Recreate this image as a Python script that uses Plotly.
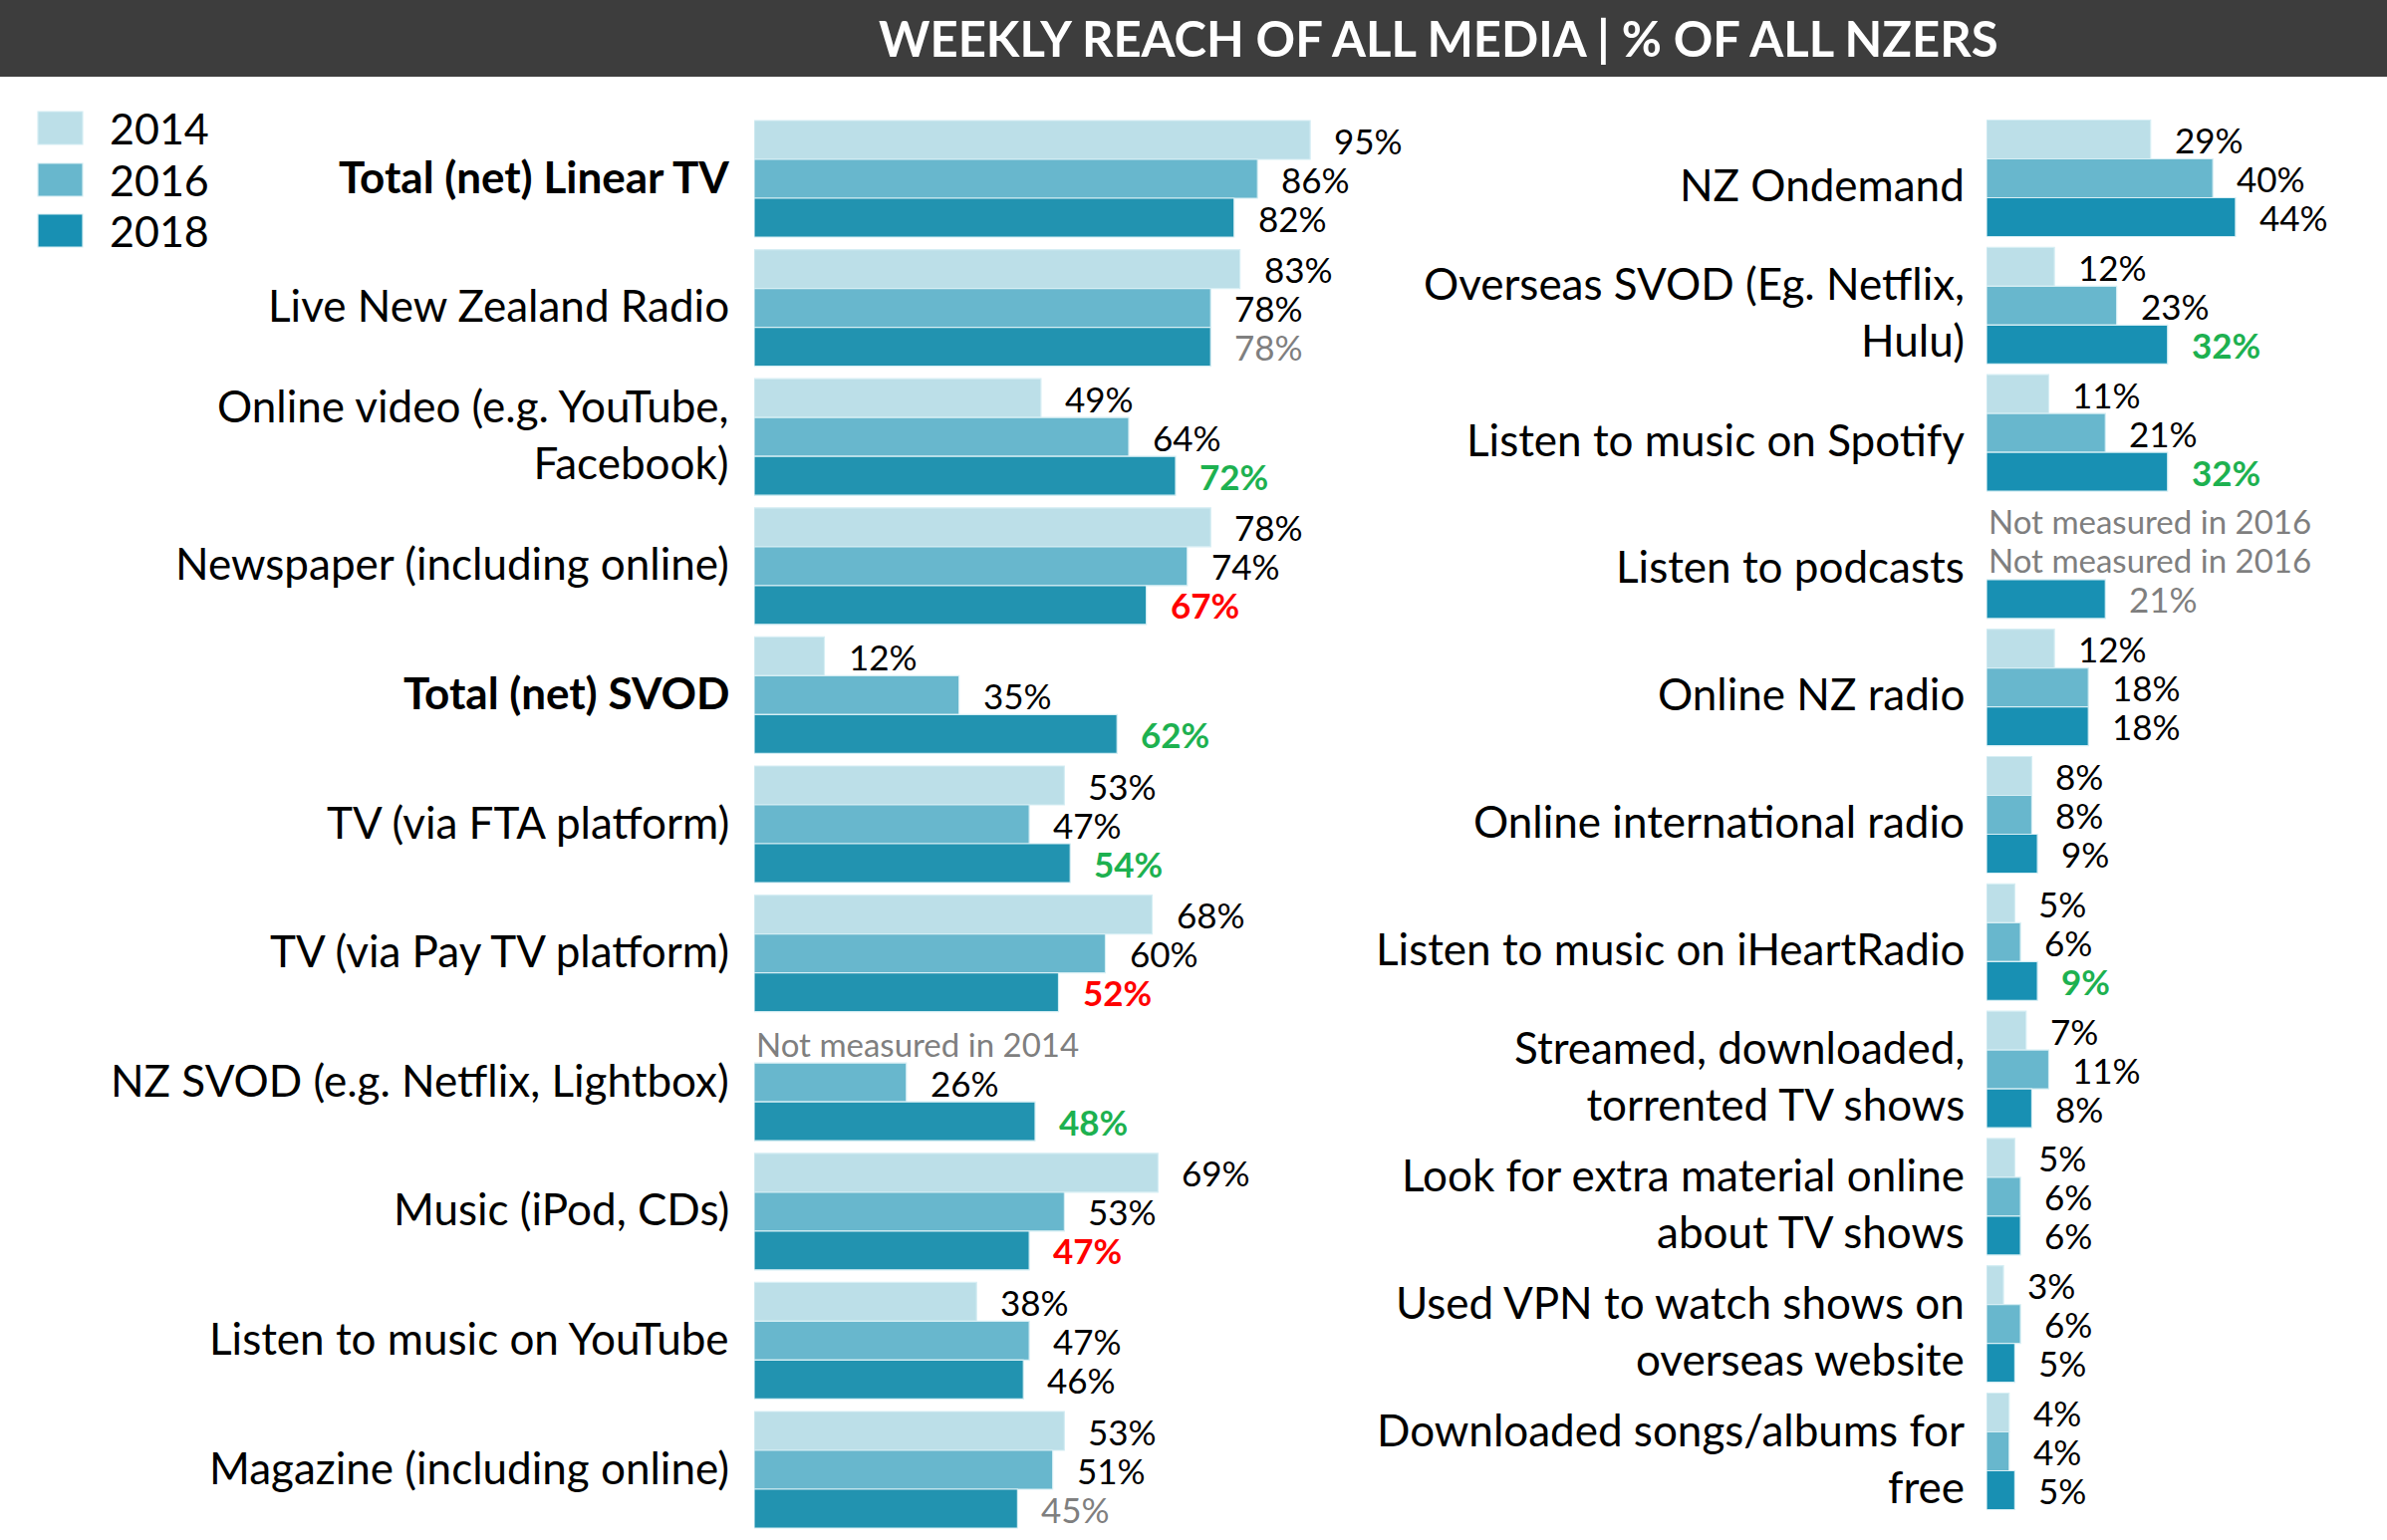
import plotly.graph_objects as go

W, H = 2396, 1546
FONT = "Lato"

# ---------------- data ----------------
years = ["2014", "2016", "2018"]

left_categories = [
    "<b>Total (net) Linear TV</b>",
    "Live New Zealand Radio",
    "Online video (e.g. YouTube,<br>Facebook)",
    "Newspaper (including online)",
    "<b>Total (net) SVOD</b>",
    "TV (via FTA platform)",
    "TV (via Pay TV platform)",
    "NZ SVOD (e.g. Netflix, Lightbox)",
    "Music (iPod, CDs)",
    "Listen to music on YouTube",
    "Magazine (including online)",
]
left_2014 = [95, 83, 49, 78, 12, 53, 68, None, 69, 38, 53]
left_2016 = [86, 78, 64, 74, 35, 47, 60, 26, 53, 47, 51]
left_2018 = [82, 78, 72, 67, 62, 54, 52, 48, 47, 46, 45]
left_2018_flag = ["", "flat", "up", "down", "up", "up", "down", "up", "down", "", "flat"]
left_missing_note = ["", "", "", "", "", "", "", "Not measured in 2014", "", "", ""]

right_categories = [
    "NZ Ondemand",
    "Overseas SVOD (Eg. Netflix,<br>Hulu)",
    "Listen to music on Spotify",
    "Listen to podcasts",
    "Online NZ radio",
    "Online international radio",
    "Listen to music on iHeartRadio",
    "Streamed, downloaded,<br>torrented TV shows",
    "Look for extra material online<br>about TV shows",
    "Used VPN to watch shows on<br>overseas website",
    "Downloaded songs/albums for<br>free",
]
right_2014 = [29, 12, 11, None, 12, 8, 5, 7, 5, 3, 4]
right_2016 = [40, 23, 21, None, 18, 8, 6, 11, 6, 6, 4]
right_2018 = [44, 32, 32, 21, 18, 9, 9, 8, 6, 5, 5]
right_2018_flag = ["", "up", "up", "flat", "", "", "up", "", "", "", ""]
right_missing_note = ["", "", "", "Not measured in 2016", "", "", "", "", "", "", ""]

title_text = "WEEKLY REACH OF ALL MEDIA | % OF ALL NZERS"

# ---------------- styles ----------------
col_2014 = "#bcdfe8"
col_2016 = "#68b7cd"
col_2018_left = "#2293b0"
col_2018_right = "#1890b3"
flag_style = {"": ("#000000", False), "flat": ("#7f7f7f", False),
              "up": ("#1db150", True), "down": ("#ff0000", True)}

CAT_SIZE = 44
VAL_SIZE = 35
BAR_PX = 39
# left panel geometry (pixels)
L_X0, L_SCALE, L_RANGE = 757, 5.875, 100
L_TOP, L_PITCH = 179.5, 129.6
# right panel geometry (pixels)
R_X0, R_SCALE, R_RANGE = 1994, 5.68, 60
R_TOP, R_PITCH = 179, 127.8

n = len(left_categories)


def xdom(x0, scale, rng):
    return [x0 / W, (x0 + scale * rng) / W]


def ydom(top, pitch):
    t = top - pitch / 2
    b = top + (n - 0.5) * pitch
    return [1 - b / H, 1 - t / H]


fig = go.Figure()
annotations = []


def add_panel(cats, series, colors, flags, notes, xa, ya, pitch, label_shift, label_yshift):
    bw = BAR_PX / pitch
    pos = list(range(len(cats)))
    for k, (vals, c) in enumerate(zip(series, colors)):
        fig.add_trace(go.Bar(
            x=vals, y=pos, orientation="h", width=bw,
            offset=-1.5 * bw + k * bw,
            marker=dict(color=c, line=dict(color="#d6eef4", width=1.2)),
            xaxis=xa, yaxis=ya, showlegend=False, hoverinfo="skip",
        ))
        for i, v in enumerate(vals):
            yy = i + (k - 1) * bw
            if v is None:
                if notes[i]:
                    annotations.append(dict(
                        x=0, y=yy, xref=xa, yref=ya, text=notes[i], showarrow=False,
                        xanchor="left", yanchor="middle",
                        font=dict(family=FONT, size=VAL_SIZE - 2, color="#7f7f7f")))
                continue
            color, bold = ("#000000", False)
            if k == 2:
                color, bold = flag_style[flags[i]]
            txt = f"{v}%"
            if bold:
                txt = f"<b>{txt}</b>"
            annotations.append(dict(
                x=v, y=yy, xref=xa, yref=ya, text=txt, showarrow=False,
                xanchor="left", yanchor="middle", xshift=22,
                font=dict(family=FONT, size=VAL_SIZE, color=color)))
    for i, c in enumerate(cats):
        annotations.append(dict(
            x=0, y=i, xref=xa, yref=ya, text=c, showarrow=False,
            xanchor="right", yanchor="middle", align="right",
            xshift=label_shift, yshift=label_yshift,
            font=dict(family=FONT, size=CAT_SIZE, color="#000000")))


add_panel(left_categories, [left_2014, left_2016, left_2018],
          [col_2014, col_2016, col_2018_left], left_2018_flag, left_missing_note,
          "x", "y", L_PITCH, -23, 3)
add_panel(right_categories, [right_2014, right_2016, right_2018],
          [col_2014, col_2016, col_2018_right], right_2018_flag, right_missing_note,
          "x2", "y2", R_PITCH, -20, -6)

# title
annotations.append(dict(
    x=1444 / W, y=1 - 38 / H, xref="paper", yref="paper", text=f"<b>{title_text}</b>",
    showarrow=False, xanchor="center", yanchor="middle",
    font=dict(family=FONT, size=49, color="#ffffff")))

shapes = [dict(type="rect", xref="paper", yref="paper", x0=0, x1=1,
               y0=1 - 77 / H, y1=1, fillcolor="#3d3d3d", line=dict(width=0), layer="below")]

# legend (drawn manually for large square swatches)
legend_rows = [(112, 145), (164, 197), (215, 248)]
for yr, c, (t, b) in zip(years, [col_2014, col_2016, col_2018_right], legend_rows):
    shapes.append(dict(type="rect", xref="paper", yref="paper",
                       x0=38 / W, x1=83 / W, y0=1 - b / H, y1=1 - t / H,
                       fillcolor=c, line=dict(color="#d6eef4", width=1.2)))
    annotations.append(dict(
        x=108 / W, y=1 - (t + b) / 2 / H, xref="paper", yref="paper", text=yr,
        showarrow=False, xanchor="left", yanchor="middle",
        font=dict(family=FONT, size=43, color="#000000")))

hidden = dict(visible=False, showgrid=False, zeroline=False, fixedrange=True)
fig.update_layout(
    width=W, height=H, autosize=False,
    margin=dict(l=0, r=0, t=0, b=0, pad=0),
    paper_bgcolor="#ffffff", plot_bgcolor="rgba(0,0,0,0)",
    barmode="overlay",
    xaxis=dict(hidden, domain=xdom(L_X0, L_SCALE, L_RANGE), range=[0, L_RANGE], anchor="y"),
    yaxis=dict(hidden, domain=ydom(L_TOP, L_PITCH), range=[n - 0.5, -0.5], anchor="x"),
    xaxis2=dict(hidden, domain=xdom(R_X0, R_SCALE, R_RANGE), range=[0, R_RANGE], anchor="y2"),
    yaxis2=dict(hidden, domain=ydom(R_TOP, R_PITCH), range=[n - 0.5, -0.5], anchor="x2"),
    annotations=annotations,
    shapes=shapes,
    font=dict(family=FONT),
)

fig.write_html("out.html", config={"displayModeBar": False},
               post_script="document.body.style.margin='0';document.body.style.padding='0';")
